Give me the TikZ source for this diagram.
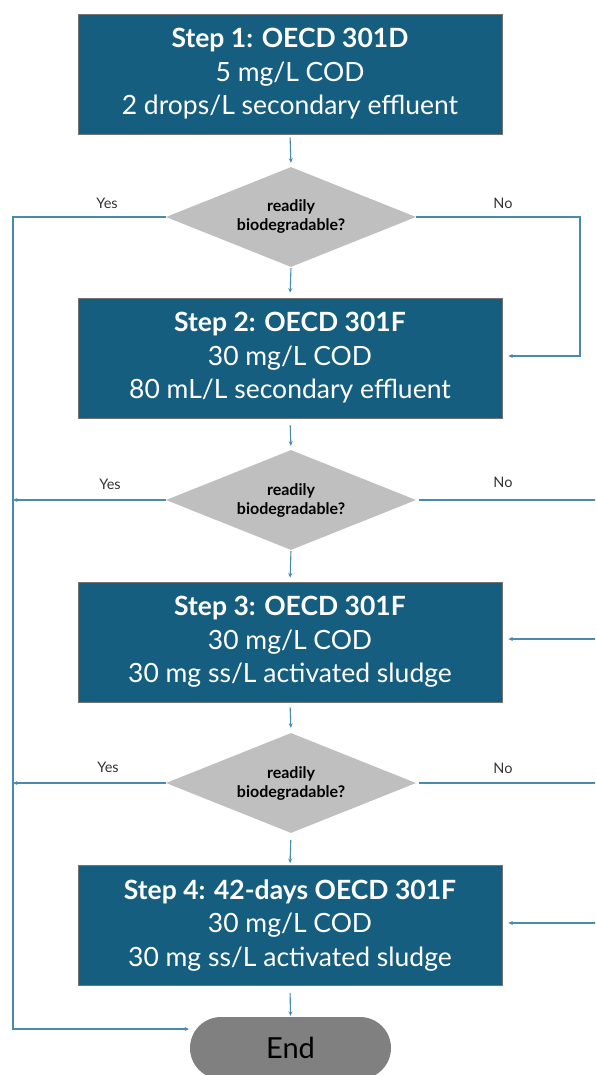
\documentclass[tikz,border=0pt]{standalone}
\usepackage{fontspec}
\setmainfont{Lato}
\usetikzlibrary{shapes.geometric,arrows.meta}

\definecolor{stepblue}{RGB}{22,94,128}
\definecolor{linkblue}{RGB}{72,138,176}
\definecolor{askgray}{RGB}{191,191,191}
\definecolor{endgray}{RGB}{128,128,128}

\tikzset{
	stepbox/.style={draw=black!55, line width=0.7pt, fill=stepblue, text=white, minimum width=424pt, minimum height=120pt, inner sep=0pt, align=center, font=\fontsize{26.5}{33.5}\selectfont},
	askbox/.style={diamond, fill=askgray, minimum width=250pt, minimum height=100pt, shape aspect=2.5, inner sep=0pt, align=center, font=\bfseries\fontsize{16}{19}\selectfont},
	endbox/.style={fill=endgray, rounded corners=31pt, minimum width=201pt, minimum height=62pt, inner sep=0pt, font=\fontsize{29}{29}\selectfont},
	tag/.style={text=black!80, font=\fontsize{14.5}{14.5}\selectfont},
	link/.style={-{Stealth[length=4.5pt,width=4pt]}, line width=1.1pt, draw=linkblue},
	wire/.style={line width=1.1pt, draw=linkblue}
}

\begin{document}

\begin{tikzpicture}[x=1pt, y=-1pt]

		\useasboundingbox (0,0) rectangle (595,1075);

		\clip (0,0) rectangle (595,1075);

		% steps and questions

		\node[stepbox] (s1) at (290,74) {\textbf{Step 1: OECD 301D}\\5 mg/L COD\\2 drops/L secondary effluent};

		\node[askbox] (d1) at (291,217) {readily\\biodegradable?};

		\node[stepbox] (s2) at (290,358) {\textbf{Step 2: OECD 301F}\\30 mg/L COD\\80 mL/L secondary effluent};

		\node[askbox] (d2) at (291,500) {readily\\biodegradable?};

		\node[stepbox] (s3) at (290,642) {\textbf{Step 3: OECD 301F}\\30 mg/L COD\\30 mg ss/L activated sludge};

		\node[askbox] (d3) at (291,783) {readily\\biodegradable?};

		\node[stepbox] (s4) at (290,925.5) {\textbf{Step 4: 42-days OECD 301F}\\30 mg/L COD\\30 mg ss/L activated sludge};

		\node[endbox] (fin) at (290.5,1048) {End};

		% define point

		\coordinate (yestop) at (13,217);

		\coordinate (yesbot) at (13,1029);

		\coordinate (finin) at (189,1029);

		\coordinate (notop) at (580,217);

		\coordinate (nobot) at (580,356);

		\coordinate (in3) at (600,639);

		\coordinate (in4) at (600,923);

		% down the middle

		\draw [link, shorten <=3pt, shorten >=4pt] (s1.south) -- (d1.north);

		\draw [link, shorten <=1pt, shorten >=5pt] (d1.south) -- (s2.north);

		\draw [link, shorten <=7pt, shorten >=4pt] (s2.south) -- (d2.north);

		\draw [link, shorten <=1pt, shorten >=4pt] (d2.south) -- (s3.north);

		\draw [link, shorten <=5pt, shorten >=5pt] (s3.south) -- (d3.north);

		\draw [link, shorten <=7pt, shorten >=2pt] (d3.south) -- (s4.north);

		\draw [link, shorten <=7pt, shorten >=1pt] (s4.south) -- (fin.north);

		% yes side

		\draw [link] (d1.west) -- (yestop) -- (yesbot) -- (finin);

		\draw [link] (d2.west) -- (d2.west -| yestop);

		\draw [link] (d3.west) -- (d3.west -| yestop);

		\node[tag] (yes1) at (107,203) {Yes};

		\node[tag] (yes2) at (110,484) {Yes};

		\node[tag] (yes3) at (108,767) {Yes};

		% no side

		\draw [link, shorten >=6pt] (d1.east) -- (notop) -- (nobot) -- (nobot -| s2.east);

		\draw [wire, shorten <=3pt] (d2.east) -- (d2.east -| in3);

		\draw [link, shorten >=6pt] (in3) -- (in3 -| s3.east);

		\draw [wire, shorten <=3pt] (d3.east) -- (d3.east -| in4);

		\draw [link, shorten >=6pt] (in4) -- (in4 -| s4.east);

		\node[tag] (no1) at (503,203) {No};

		\node[tag] (no2) at (503,482) {No};

		\node[tag] (no3) at (503,768) {No};

	\end{tikzpicture}

\end{document}
